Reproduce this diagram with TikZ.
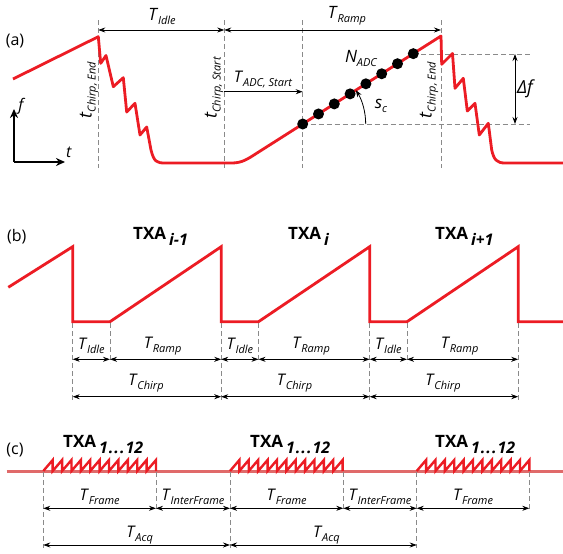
\documentclass[tikz,border=0pt]{standalone}
\usepackage{fontspec}
\setmainfont{Open Sans}
\usetikzlibrary{arrows.meta}
\definecolor{rd}{HTML}{EC1C24}
\definecolor{rdl}{HTML}{E06A6A}
\definecolor{gd}{HTML}{8A8A8A}
\newcommand\Tl[2][T]{\textit{#1}\kern-0.3pt\raisebox{-4pt}{\fontsize{11}{11}\selectfont\itshape #2}}
\newcommand\TXl[1]{\textbf{TXA}\hspace{3pt}\raisebox{-6pt}{\fontsize{16}{16}\selectfont\bfseries\itshape #1}}
\begin{document}
\begin{tikzpicture}[x=1pt,y=-1pt,
  wave/.style={draw=rd, line width=2.8pt, line join=round},
  dim/.style={{Stealth[length=7pt,width=5pt]}-{Stealth[length=7pt,width=5pt]}, line width=0.8pt},
  dimr/.style={-{Stealth[length=7pt,width=5pt]}, line width=0.8pt},
  guide/.style={draw=gd, dash pattern=on 5pt off 3pt, line width=0.8pt},
  lbl/.style={font=\fontsize{16}{18}\selectfont, inner sep=0pt},
  txa/.style={font=\fontsize{17}{19}\selectfont, inner sep=0pt, anchor=base west},
  dot/.style={circle, fill=black, inner sep=0pt, minimum size=11pt},
  axis/.style={line width=1.8pt, -{Stealth[length=9pt,width=8pt]}},
]
\useasboundingbox (0,0) rectangle (563,554);

% ================= (a) =================
\node[lbl] (pa) at (15,41) {(a)};
% axes
\coordinate (o) at (14,162);
\coordinate (fy) at (14,109);
\coordinate (tx) at (65,162);
\draw[axis] (o) -- (fy);
\draw[axis] (o) -- (tx);
\node[lbl] (lf) at (22,106) {\textit{f}};
\node[lbl] (lt) at (69,152) {\textit{t}};

% guides
\coordinate (g1t) at (98.3,20); \coordinate (g1b) at (98.3,168);
\coordinate (g2t) at (224.3,20); \coordinate (g2b) at (224.3,168);
\coordinate (g3t) at (302.7,20); \coordinate (g3b) at (302.7,168);
\coordinate (g4t) at (441,20); \coordinate (g4b) at (441,168);
\draw[guide] (g1t) -- (g1b);
\draw[guide] (g2t) -- (g2b);
\draw[guide] (g3t) -- (g3b);
\draw[guide] (g4t) -- (g4b);
\coordinate (h1a) at (413.3,54); \coordinate (h1b) at (530,54);
\coordinate (h2a) at (302.7,124); \coordinate (h2b) at (530,124);
\draw[guide] (h1a) -- (h1b);
\draw[guide] (h2a) -- (h2b);

% waveform (a)
\draw[wave] (13,79) -- (98.3,36.7) -- (100.7,63.3) -- (106,55.5) -- (113.3,86.7) -- (123.3,77.7)
  -- (126.7,112) -- (135,103.3) -- (140,135) -- (146.7,127) -- (151,150)
  .. controls (154,162) and (157,163) .. (165,163) -- (232,163)
  .. controls (242,163) and (248,158.8) .. (256,153.7) -- (441,36)
  -- (441.7,64.3) -- (452.5,53.5) -- (455,88.3) -- (463.3,78.3) -- (467.3,111) -- (475,103.3)
  -- (479.3,135) -- (488.3,123.3) -- (491.7,150)
  .. controls (494,160) and (497,163) .. (505,163) -- (563,163);

% dots
\foreach \i in {0,...,7}{
  \pgfmathsetmacro\xx{302.7+15.8*\i}
  \pgfmathsetmacro\yy{124-0.636*15.8*\i}
  \node[dot] (d\i) at (\xx,\yy) {};
}

% dimension arrows (a)
\coordinate (ia) at (98.3,30); \coordinate (ib) at (224.3,30); \coordinate (ic) at (441,30);
\draw[dim] (ia) -- (ib);
\draw[dim] (ib) -- (ic);
\node[lbl, font=\fontsize{17}{19}\selectfont] (lidle) at (162,16) {\Tl{Idle}};
\node[lbl, font=\fontsize{17}{19}\selectfont] (lramp) at (347,16) {\Tl{Ramp}};
\coordinate (adca) at (224.3,91.7); \coordinate (adcb) at (302.7,91.7);
\draw[dimr] (adca) -- (adcb);
\node[lbl] (ladc) at (263,79) {\Tl{ADC, Start}};
\node[lbl, rotate=90, font=\fontsize{18}{20}\selectfont] (lce1) at (89,90) {\Tl[t]{Chirp, End}};
\node[lbl, rotate=90, font=\fontsize{18}{20}\selectfont] (lcs) at (214,88) {\Tl[t]{Chirp, Start}};
\node[lbl, rotate=90, font=\fontsize{18}{20}\selectfont] (lce2) at (429,90) {\Tl[t]{Chirp, End}};
\node[lbl, font=\fontsize{17}{19}\selectfont] (lnadc) at (361,58) {\Tl[N]{ADC}};
% slope arc
\coordinate (sc0) at (365.7,124); \coordinate (sc1) at (355.8,90.1);
\draw[dimr] (sc0) .. controls (365.7,112) and (362.2,100.2) .. (sc1);
\node[lbl, font=\fontsize{17}{19}\selectfont] (lsc) at (381,106) {\textit{s}\raisebox{-4pt}{\fontsize{11}{11}\selectfont\itshape c}};
% delta f
\coordinate (dfa) at (515,54); \coordinate (dfb) at (515,124);
\draw[dim] (dfa) -- (dfb);
\node[lbl, font=\fontsize{18}{20}\selectfont] (ldf) at (526,89) {\textit{Δf}};

% ================= (b) =================
\node[lbl] (pb) at (16.7,236.7) {(b)};
\draw[wave, line join=miter] (8.3,287.3) -- (72.7,246.7) -- (72.7,321.7) -- (110,321.7) -- (221.2,246.7)
  -- (221.2,321.7) -- (258.5,321.7) -- (369.7,246.7) -- (369.7,321.7) -- (407,321.7)
  -- (518.2,246.7) -- (518.2,321.7) -- (563,321.7);
\foreach \n/\x in {p1/72.7,p2/221.2,p3/369.7,p4/518.2}{
  \coordinate (\n t) at (\x,323); \coordinate (\n b) at (\x,400);
  \draw[guide] (\n t) -- (\n b);
}
\foreach \n/\x in {q1/110,q2/258.5,q3/407}{
  \coordinate (\n t) at (\x,323); \coordinate (\n b) at (\x,363);
  \draw[guide] (\n t) -- (\n b);
}
\foreach \a/\b/\n in {72.7/110/1,221.2/258.5/2,369.7/407/3}{
  \coordinate (bi\n a) at (\a,359.3); \coordinate (bi\n b) at (\b,359.3);
  \draw[dim] (bi\n a) -- (bi\n b);
  \node[lbl] (lbi\n) at ({(\a+\b)/2},346) {\Tl{Idle}};
}
\foreach \a/\b/\n in {110/221.2/1,258.5/369.7/2,407/518.2/3}{
  \coordinate (br\n a) at (\a,359.3); \coordinate (br\n b) at (\b,359.3);
  \draw[dim] (br\n a) -- (br\n b);
  \node[lbl] (lbr\n) at ({(\a+\b)/2-3},346) {\Tl{Ramp}};
}
\foreach \a/\b/\n in {72.7/221.2/1,221.2/369.7/2,369.7/518.2/3}{
  \coordinate (bc\n a) at (\a,396.7); \coordinate (bc\n b) at (\b,396.7);
  \draw[dim] (bc\n a) -- (bc\n b);
  \node[lbl] (lbc\n) at ({(\a+\b)/2-1},383) {\Tl{Chirp}};
}
\node[txa] (tb1) at (133,239) {\TXl{i-1}};
\node[txa] (tb2) at (288,239) {\TXl{i}};
\node[txa] (tb3) at (435,239) {\TXl{i+1}};

% ================= (c) =================
\node[lbl] (pc) at (15,450) {(c)};
\coordinate (cl) at (6.7,471); \coordinate (cr) at (563,471);
\draw[draw=rdl, line width=3pt] (cl) -- (cr);
\foreach \x in {43.3,230,416.7}{
  \draw[wave, line width=2.4pt, line join=miter]
    (\x,471) \foreach \k in {1,...,12}{ -- ({\x+9.39*\k},460) -- ({\x+9.39*\k},471) };
}
\foreach \n/\x in {c1/43.3,c2/230,c3/416.7}{
  \coordinate (\n t) at (\x,472); \coordinate (\n b) at (\x,548);
  \draw[guide] (\n t) -- (\n b);
}
\foreach \n/\x in {e1/156,e2/343.3,e3/529.3}{
  \coordinate (\n t) at (\x,472); \coordinate (\n b) at (\x,511);
  \draw[guide] (\n t) -- (\n b);
}
\foreach \a/\b/\n in {43.3/156/1,230/343.3/2,416.7/529.3/3}{
  \coordinate (cf\n a) at (\a,508.3); \coordinate (cf\n b) at (\b,508.3);
  \draw[dim] (cf\n a) -- (cf\n b);
  \node[lbl] (lcf\n) at ({(\a+\b)/2},497) {\Tl{Frame}};
}
\foreach \a/\b/\n in {156/230/1,343.3/416.7/2}{
  \coordinate (ci\n a) at (\a,508.3); \coordinate (ci\n b) at (\b,508.3);
  \draw[dim] (ci\n a) -- (ci\n b);
  \node[lbl] (lci\n) at ({(\a+\b)/2},497) {\Tl{InterFrame}};
}
\foreach \a/\b/\n in {43.3/230/1,230/416.7/2}{
  \coordinate (ca\n a) at (\a,545); \coordinate (ca\n b) at (\b,545);
  \draw[dim] (ca\n a) -- (ca\n b);
  \node[lbl] (lca\n) at ({(\a+\b)/2+3},535) {\Tl{Acq}};
}
\node[txa] (tc1) at (63,447) {\TXl{1\kern1pt.\kern1pt.\kern1pt.\kern1pt12}};
\node[txa] (tc2) at (250,447) {\TXl{1\kern1pt.\kern1pt.\kern1pt.\kern1pt12}};
\node[txa] (tc3) at (435,447) {\TXl{1\kern1pt.\kern1pt.\kern1pt.\kern1pt12}};
\end{tikzpicture}
\end{document}
